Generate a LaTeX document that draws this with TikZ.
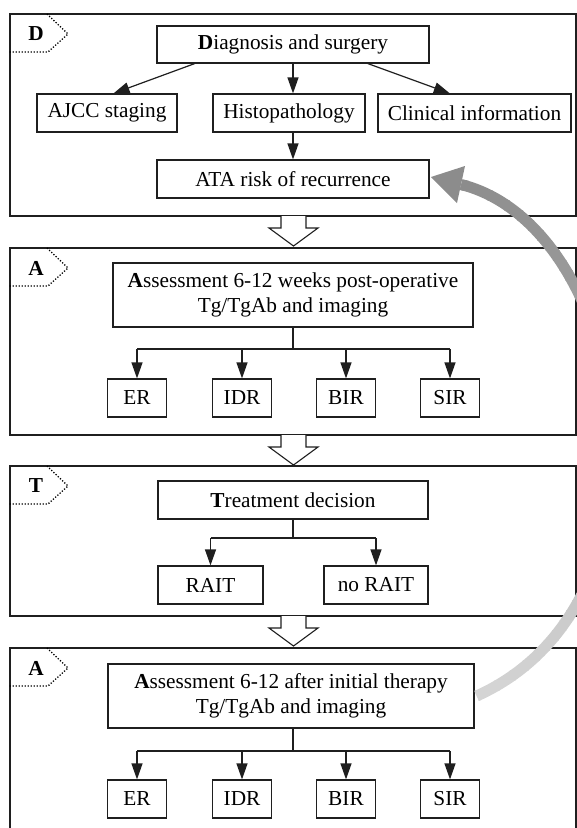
\documentclass[tikz,border=0pt]{standalone}
\usepackage{fontspec}
\setmainfont{Liberation Serif}
\usetikzlibrary{arrows.meta,calc}
\begin{document}
\begin{tikzpicture}[x=1pt,y=-1pt,
  box/.style={draw=black!88, line width=1.2pt, minimum height=38pt, inner sep=0pt,
    font=\fontsize{21.3}{25}\selectfont, align=center},
  bigbox/.style={box, minimum height=64pt},
  panel/.style={draw=black!88, line width=1.3pt},
  arr/.style={draw=black!88, line width=1.2pt, -{Triangle[length=16pt,width=11pt]}},
  conn/.style={draw=black!88, line width=1.2pt},
  chev/.style={line width=1.3pt, dash pattern=on 1.2pt off 1.8pt},
  plabel/.style={font=\fontsize{21.3}{25}\selectfont\bfseries},
  hollow/.style={draw=black!88, line width=1.1pt, fill=white}]
\clip (0,0) rectangle (577,828);
\fill[white] (0,0) rectangle (577,828);

% ---------- panels ----------
\draw[panel] (10,14) rectangle (576,216);
\draw[panel] (10,248) rectangle (576,435);
\draw[panel] (10,466) rectangle (576,616);
\draw[panel] (10,648) rectangle (576,860);

% panel labels
\foreach \yy/\lab in {14/D,248/A,466/T,648/A}{
  \draw[chev] (47,\yy) -- (68,\yy+20) -- (48,\yy+38) -- (9,\yy+38);
  \node[plabel] at (36,\yy+20) {\lab};
}

% hollow arrows between panels
\foreach \yy in {216,435,616}{
  \draw[hollow] (281,\yy) -- (281,\yy+12) -- (269,\yy+12) -- (293.5,\yy+30)
     -- (318,\yy+12) -- (306,\yy+12) -- (306,\yy);
}

% ---------- panel 1 ----------
\node[box, minimum width=272pt, minimum height=37pt] (diag) at (293,44.5) {\textbf{D}iagnosis and surgery};
\node[box, minimum width=140pt] (ajcc) at (107,113) {AJCC staging};
\node[box, minimum width=152pt] (histo) at (289,113) {Histopathology};
\node[box, minimum width=193pt] (clin) at (474.5,113) {Clinical information};
\node[box, minimum width=272pt] (ata) at (293,179) {ATA risk of recurrence};

\draw[arr] ($(diag.south west)!0.14!(diag.south east)$) -- ($(ajcc.north west)!0.546!(ajcc.north east)$);
\draw[arr] (diag.south) -- (diag.south |- histo.north);
\draw[arr] ($(diag.south west)!0.774!(diag.south east)$) -- ($(clin.north west)!0.373!(clin.north east)$);
\draw[arr] (ata.north |- histo.south) -- (ata.north);

% ---------- panel 2 ----------
\node[bigbox, minimum width=360pt] (as1) at (293,295) {\textbf{A}ssessment 6-12 weeks post-operative\\Tg/TgAb and imaging};
\node[box, minimum width=59pt] (er1) at (137,398) {ER};
\node[box, minimum width=59pt] (idr1) at (242,398) {IDR};
\node[box, minimum width=59pt] (bir1) at (346,398) {BIR};
\node[box, minimum width=59pt] (sir1) at (450,398) {SIR};
\coordinate (j1) at (293,349);
\draw[conn] (as1.south) -- (j1);
\draw[conn] (er1.north |- j1) -- (sir1.north |- j1);
\foreach \b in {er1,idr1,bir1,sir1}{ \draw[arr] (\b.north |- j1) -- (\b.north); }

% ---------- panel 3 ----------
\node[box, minimum width=270pt] (treat) at (293,500) {\textbf{T}reatment decision};
\node[box, minimum width=105pt] (rait) at (210.5,585) {RAIT};
\node[box, minimum width=104pt] (norait) at (376,585) {no RAIT};
\coordinate (j2) at (293,538);
\draw[conn] (treat.south) -- (j2);
\draw[conn] (rait.north |- j2) -- (norait.north |- j2);
\foreach \b in {rait,norait}{ \draw[arr] (\b.north |- j2) -- (\b.north); }

% ---------- panel 4 ----------
\node[bigbox, minimum width=366pt] (as2) at (291,696) {\textbf{A}ssessment 6-12 after initial therapy\\Tg/TgAb and imaging};
\node[box, minimum width=59pt] (er2) at (137,799) {ER};
\node[box, minimum width=59pt] (idr2) at (242,799) {IDR};
\node[box, minimum width=59pt] (bir2) at (346,799) {BIR};
\node[box, minimum width=59pt] (sir2) at (450,799) {SIR};
\coordinate (j3) at (293,751);
\draw[conn] (as2.south -| j3) -- (j3);
\draw[conn] (er2.north |- j3) -- (sir2.north |- j3);
\foreach \b in {er2,idr2,bir2,sir2}{ \draw[arr] (\b.north |- j3) -- (\b.north); }

% ---------- big feedback arrow (gradient) ----------
\coordinate (cstart) at ($(as2.east)+(2,0)$);
\coordinate (hbase) at (461,184.5);
\coordinate (htip) at (431,177);
\foreach \i in {0,...,55}{
  \pgfmathsetmacro\ya{170+\i*10}
  \pgfmathtruncatemacro\shd{45-28*min(1,max(0,(\ya+5-185)/512))}
  \begin{scope}
    \clip (300,\ya) rectangle (600,\ya+10.6);
    \draw[line width=11pt, draw=black!\shd] (cstart) .. controls (690,600) and (631,227) .. (hbase);
  \end{scope}
}
\fill[black!45] (htip) -- (465,166) -- (457,203) -- cycle;
\end{tikzpicture}
\end{document}
